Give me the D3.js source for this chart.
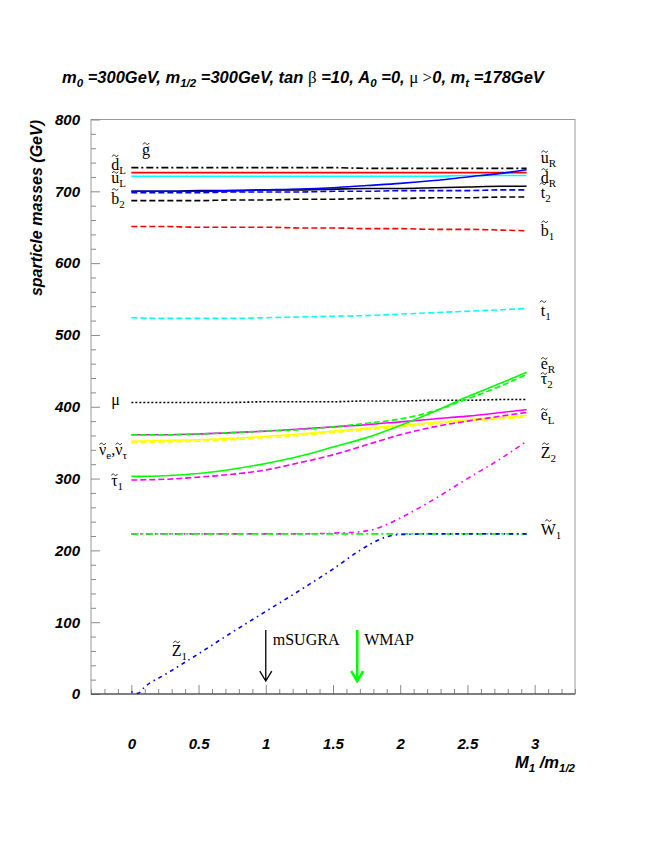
<!DOCTYPE html>
<html>
<head>
<meta charset="utf-8">
<script src="https://cdn.jsdelivr.net/npm/d3@7"></script>
<style>
  body { margin: 0; background: #fff; }
  svg { display: block; }
  .sans  { font-family: "Liberation Sans", Arial, sans-serif; font-weight: bold; font-style: italic; }
  .serif { font-family: "Liberation Serif", "Times New Roman", serif; font-weight: normal; font-style: normal; }
</style>
</head>
<body>
<svg id="chart" width="654" height="846"></svg>
<script>
// sparticle masses vs M1/m_1/2

// ── x grids ─────────────────────────────────────────────
const m1Grid = [0, 0.25, 0.5, 0.75, 1.0, 1.25, 1.5, 1.75, 2.0, 2.25, 2.5, 2.75, 2.94];
const m1Fine = [0, 0.05, 0.1, 0.25, 0.5, 0.75, 1.0, 1.25, 1.5, 1.7, 1.8, 1.9, 2.0, 2.25, 2.5, 2.75, 2.94];

// ── masses (GeV) on m1Grid ──────────────────────────────
const gluino   = [733, 733, 733, 733, 733, 733, 733, 732, 732, 732, 732, 732, 732];
const sdownL   = [726, 726, 726, 726, 726, 726, 726, 726, 726, 726, 726, 726, 726];
const supL     = [721, 721, 721, 721, 721, 721, 721, 721, 721, 721, 722, 722, 722];
const supR     = [700, 700, 700, 701, 702, 703, 705, 708, 711, 715, 720, 725, 730];
const sstrange = [700, 700, 701, 701, 702, 702, 703, 704, 704, 705, 706, 707, 707];
const sdownR   = [698, 698, 698, 699, 699, 699, 700, 700, 701, 701, 701, 702, 702];
const stop2    = [687, 687, 687, 688, 688, 689, 689, 690, 690, 691, 691, 692, 692];
const sbot1    = [651, 651, 650, 650, 650, 649, 649, 648, 648, 647, 647, 646, 645];
const stop1    = [524, 523, 523, 523, 524, 525, 526, 527, 529, 531, 533, 535, 537];
const muVals   = [406, 406, 406, 406, 407, 407, 407, 408, 408, 409, 409, 410, 410];
const selR     = [303, 304, 307, 313, 321, 331, 344, 357, 374, 393, 414, 433, 448];
const stau2    = [361, 361, 362, 364, 366, 368, 372, 377, 383, 394, 411, 429, 445];
const selL     = [361, 361, 362, 364, 366, 369, 372, 375, 379, 383, 387, 392, 396];
const stau1    = [298, 299, 302, 306, 312, 322, 333, 347, 361, 372, 380, 387, 392];
const snue     = [352, 353, 354, 356, 359, 362, 366, 370, 374, 378, 382, 385, 388];
const snutau   = [350, 351, 352, 354, 357, 360, 364, 368, 372, 376, 380, 383, 386];

// ── gauginos on m1Fine ──────────────────────────────────
const wino1 = [223, 223, 223, 223, 223, 223, 223, 223, 223, 223, 223, 223, 223, 223, 223, 223, 223];
const zino2 = [223, 223, 223, 223, 223, 223, 223, 223, 224, 226, 229, 236, 245, 271, 300, 328, 352];
const zino1 = [3, 1, 10, 27, 56, 86, 115, 144, 174, 200, 211, 219, 222, 223, 223, 223, 223];

// ── axes ticks ──────────────────────────────────────────
const xMajor = [0, 0.5, 1, 1.5, 2, 2.5, 3];
const yMajor = [0, 100, 200, 300, 400, 500, 600, 700, 800];

// ── arrows ──────────────────────────────────────────────
const arrowsM1   = [1.0, 1.68];
const arrowNames = ["mSUGRA", "WMAP"];

const W = 654, H = 846;
const svg = d3.select("#chart");

const x = d3.scaleLinear().domain([-0.3, 3.3]).range([91, 575]);
const y = d3.scaleLinear().domain([0, 800]).range([694, 119.5]);

// frame
svg.append("rect")
  .attr("x", x(-0.3)).attr("y", y(800))
  .attr("width", x(3.3) - x(-0.3)).attr("height", y(0) - y(800))
  .attr("fill", "none").attr("stroke", "#9a9a9a").attr("stroke-width", 1);

// minor ticks
const yMinor = d3.range(0, 801, 20).filter(v => v % 100 !== 0);
const xMinor = d3.range(-3, 34).map(i => i / 10).filter(v => Math.abs(v * 2 - Math.round(v * 2)) > 1e-6);

function styleAxis(g) {
  g.select(".domain").remove();
  g.selectAll(".tick line").attr("stroke", "#8a8a8a");
  g.selectAll(".tick text").attr("class", "sans").style("font-size", "15px").attr("fill", "#000");
}

svg.append("g")
  .attr("transform", `translate(${x(-0.3)},0)`)
  .call(d3.axisLeft(y).tickValues(yMajor).tickSize(-9).tickPadding(11).tickFormat(d3.format("d")))
  .call(styleAxis);
svg.append("g")
  .attr("transform", `translate(${x(-0.3)},0)`)
  .call(d3.axisLeft(y).tickValues(yMinor).tickSize(-5).tickFormat(""))
  .call(styleAxis);

svg.append("g")
  .attr("transform", `translate(0,${y(0)})`)
  .call(d3.axisBottom(x).tickValues(xMajor).tickSize(-9).tickPadding(44).tickFormat(d => d))
  .call(styleAxis);
svg.append("g")
  .attr("transform", `translate(0,${y(0)})`)
  .call(d3.axisBottom(x).tickValues(xMinor).tickSize(-5).tickFormat(""))
  .call(styleAxis);

// darker bottom axis line
svg.append("line")
  .attr("x1", x(-0.3)).attr("x2", x(3.3))
  .attr("y1", y(0)).attr("y2", y(0))
  .attr("stroke", "#333").attr("stroke-width", 1.2);

// ── curves ──────────────────────────────────────────────
const dashed  = "6,3";
const dotted  = "2,2";
const dashDot = "7,3,2,3";

const series = [
  { v: stop1,    g: m1Grid, c: "#00ffff", d: dashed },
  { v: sbot1,    g: m1Grid, c: "#ff0000", d: dashed },
  { v: stop2,    g: m1Grid, c: "#000000", d: dashed },
  { v: sdownR,   g: m1Grid, c: "#0000ff", d: dashed },
  { v: sstrange, g: m1Grid, c: "#000000", d: null },
  { v: supL,     g: m1Grid, c: "#00ffff", d: null },
  { v: sdownL,   g: m1Grid, c: "#ff0000", d: null },
  { v: supR,     g: m1Grid, c: "#0000ff", d: null },
  { v: gluino,   g: m1Grid, c: "#000000", d: dashDot },
  { v: muVals,   g: m1Grid, c: "#000000", d: dotted },
  { v: snutau,   g: m1Grid, c: "#ffff00", d: dashed },
  { v: snue,     g: m1Grid, c: "#ffff00", d: null },
  { v: stau1,    g: m1Grid, c: "#ff00ff", d: dashed },
  { v: selL,     g: m1Grid, c: "#ff00ff", d: null },
  { v: stau2,    g: m1Grid, c: "#00ff00", d: dashed },
  { v: selR,     g: m1Grid, c: "#00ff00", d: null },
  { v: zino2,    g: m1Fine, c: "#ff00ff", d: "5,4,1.5,4" },
  { v: wino1,    g: m1Fine, c: "#00ff00", d: dashDot },
  { v: zino1,    g: m1Fine, c: "#0000ff", d: "1.5,4,4,4" }
];

const line = d3.line()
  .x(d => x(d[0]))
  .y(d => y(d[1]))
  .curve(d3.curveMonotoneX);

svg.append("g").selectAll("path")
  .data(series)
  .join("path")
    .attr("d", s => line(s.g.map((m, i) => [m, s.v[i]])))
    .attr("fill", "none")
    .attr("stroke", s => s.c)
    .attr("stroke-width", 1.6)
    .attr("stroke-dasharray", s => s.d);

// ── sparticle labels ────────────────────────────────────
// seg kinds: "t" tilde over short letter, "T" tilde over tall letter, "s" subscript, "" plain
const leftLabels = [
  { m1: 0.08,  mass: 751, segs: [["g", "t"]] },
  { m1: -0.15, mass: 730, segs: [["d", "T"], ["L", "s"]] },
  { m1: -0.15, mass: 711, segs: [["u", "t"], ["L", "s"]] },
  { m1: -0.15, mass: 683, segs: [["b", "T"], ["2", "s"]] },
  { m1: -0.15, mass: 403, segs: [["μ", ""]] },
  { m1: -0.24, mass: 333, segs: [["ν", "t"], ["e", "s"], [",", ""], ["ν", "t"], ["τ", "s"]] },
  { m1: -0.15, mass: 290, segs: [["τ", "t"], ["1", "s"]] },
  { m1: 0.30,  mass: 53,  segs: [["Z", "T"], ["1", "s"]] }
];
const rightLabels = [
  { m1: 3.045, mass: 740, segs: [["u", "t"], ["R", "s"]] },
  { m1: 3.045, mass: 711, segs: [["d", "T"], ["R", "s"]] },
  { m1: 3.045, mass: 691, segs: [["t", "T"], ["2", "s"]] },
  { m1: 3.045, mass: 638, segs: [["b", "T"], ["1", "s"]] },
  { m1: 3.045, mass: 527, segs: [["t", "T"], ["1", "s"]] },
  { m1: 3.045, mass: 452, segs: [["e", "t"], ["R", "s"]] },
  { m1: 3.045, mass: 431, segs: [["τ", "t"], ["2", "s"]] },
  { m1: 3.045, mass: 381, segs: [["e", "t"], ["L", "s"]] },
  { m1: 3.045, mass: 329, segs: [["Z", "T"], ["2", "s"]] },
  { m1: 3.045, mass: 222, segs: [["W", "T"], ["1", "s"]] }
];

const labelLayer = svg.append("g");

// small tilde drawn as a path, centred on (cx, cy)
function tildePath(cx, cy) {
  const p = d3.path();
  p.moveTo(cx - 3, cy + 0.8);
  p.bezierCurveTo(cx - 2, cy - 1.4, cx - 1, cy - 1, cx, cy);
  p.bezierCurveTo(cx + 1, cy + 1, cx + 2, cy + 1.4, cx + 3, cy - 0.8);
  return p.toString();
}

function drawLabel(lab) {
  const t = labelLayer.append("text")
    .attr("class", "serif")
    .attr("x", x(lab.m1)).attr("y", y(lab.mass))
    .style("font-size", "16px").attr("fill", "#000");
  let cur = 0, idx = 0;
  const marks = [];
  lab.segs.forEach(([txt, kind]) => {
    const ts = t.append("tspan").text(txt);
    if (kind === "s") {
      ts.attr("dy", 4 - cur).style("font-size", "11px");
      cur = 4;
    } else {
      if (cur !== 0) ts.attr("dy", -cur);
      cur = 0;
    }
    if (kind === "t" || kind === "T") marks.push({ idx, tall: kind === "T" });
    idx += txt.length;
  });
  const node = t.node();
  marks.forEach(mk => {
    const ext = node.getExtentOfChar(mk.idx);
    labelLayer.append("path")
      .attr("d", tildePath(ext.x + ext.width / 2, y(lab.mass) - (mk.tall ? 14 : 11)))
      .attr("fill", "none")
      .attr("stroke", "#000")
      .attr("stroke-width", 0.8);
  });
}
leftLabels.concat(rightLabels).forEach(drawLabel);

// ── arrows ──────────────────────────────────────────────
const arrowTop = 89, arrowTip = 18;
const arrowColors = ["#000000", "#00ff00"];
const arrowWidths = [1.3, 2.6];

arrowsM1.forEach((m, i) => {
  const ax = x(m), y0 = y(arrowTop), y1 = y(arrowTip);
  svg.append("path")
    .attr("d", `M${ax},${y0}V${y1}M${ax - 6},${y1 - 10}L${ax},${y1}L${ax + 6},${y1 - 10}`)
    .attr("fill", "none")
    .attr("stroke", arrowColors[i])
    .attr("stroke-width", arrowWidths[i]);
  svg.append("text")
    .attr("class", "serif")
    .attr("x", ax + 7).attr("y", y(68))
    .style("font-size", "16px")
    .text(arrowNames[i]);
});

// ── titles ──────────────────────────────────────────────
function richText(sel, parts, subSize, greekSize) {
  let cur = 0;
  parts.forEach(([txt, kind]) => {
    const ts = sel.append("tspan").text(txt);
    if (kind === "s") {
      ts.attr("dy", 4 - cur).style("font-size", subSize);
      cur = 4;
    } else {
      if (cur !== 0) ts.attr("dy", -cur);
      cur = 0;
      if (kind === "g") ts.attr("class", "serif").style("font-size", greekSize);
    }
  });
}

const title = svg.append("text")
  .attr("class", "sans")
  .attr("x", 62).attr("y", 83)
  .style("font-size", "16.5px");
richText(title, [
  ["m", ""], ["0", "s"], [" =300GeV, m", ""], ["1/2", "s"], [" =300GeV, tan ", ""],
  ["β", "g"], [" =10, A", ""], ["0", "s"], [" =0, ", ""], ["μ >", "g"], ["0, m", ""],
  ["t", "s"], [" =178GeV", ""]
], "11.5px", "17px");

const xTitle = svg.append("text")
  .attr("class", "sans")
  .attr("x", 575).attr("y", 768)
  .attr("text-anchor", "end")
  .style("font-size", "16.5px");
richText(xTitle, [["M", ""], ["1", "s"], [" /m", ""], ["1/2", "s"]], "11.5px", "17px");

svg.append("text")
  .attr("class", "sans")
  .attr("transform", `translate(42,120) rotate(-90)`)
  .attr("text-anchor", "end")
  .style("font-size", "16px")
  .text("sparticle masses (GeV)");
</script>
</body>
</html>
